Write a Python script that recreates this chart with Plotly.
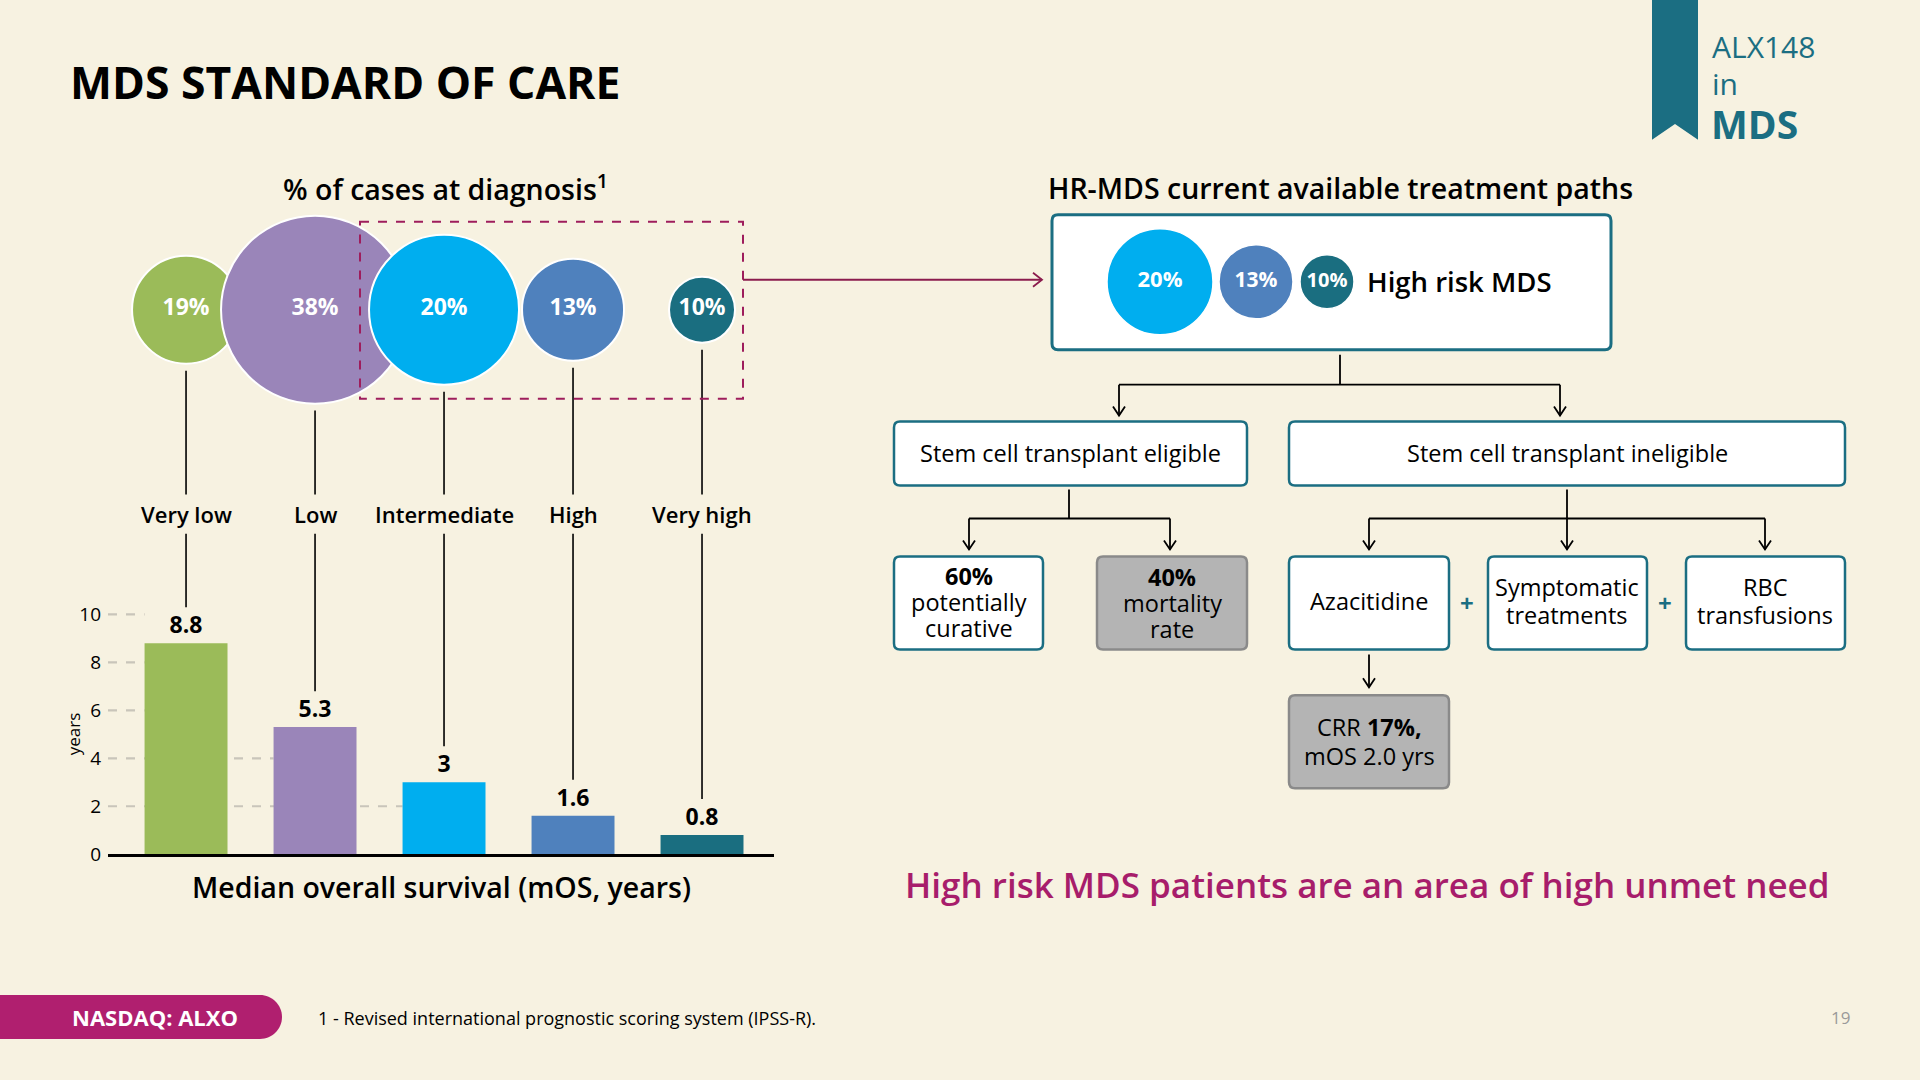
import plotly.graph_objects as go

# ---------------- data ----------------
categories = ["Very low", "Low", "Intermediate", "High", "Very high"]
pct_cases = [19, 38, 20, 13, 10]          # % of cases at diagnosis
mos_years = [8.8, 5.3, 3, 1.6, 0.8]       # median overall survival, years
y_ticks = [0, 2, 4, 6, 8, 10]
hr_idx = [2, 3, 4]                        # categories making up high-risk MDS

# ---------------- styles ----------------
W, H = 1920, 1080
HS = 1068            # vertical units of the page coordinate system
FONT = "Open Sans"
BG = "#f7f2e1"
TEAL = "#1b6e82"
MAGENTA = "#a71d6b"
cat_colors = ["#9bbb59", "#9a85b9", "#00aeef", "#4f81bd", "#1a6e80"]
bubble_diam = [108, 188, 150, 102, 66]
hr_bubble_diam = [106, 74, 54]
hr_bubble_x = [1160, 1256, 1327]
bubble_y = 310
BAR_W = 0.643
X_RANGE = [-0.605, 4.558]
PX_PER_UNIT = 24.0
Y0_PX, YTOP_PX = 855, 534
Y_RANGE = [0, (Y0_PX - YTOP_PX) / PX_PER_UNIT]

fig = go.Figure()

# ---------- bar chart ----------
fig.add_trace(go.Bar(
    x=list(range(len(categories))), y=mos_years,
    marker=dict(color=cat_colors, line=dict(width=0)),
    width=BAR_W,
    text=[str(v) for v in mos_years], textposition="outside",
    textfont=dict(family=FONT, size=23, color="black", weight="bold"),
    cliponaxis=False, hoverinfo="skip",
    xaxis="x", yaxis="y",
))

# ---------- % of cases bubbles ----------
fig.add_trace(go.Scatter(
    x=list(range(len(categories))), y=[bubble_y] * len(categories),
    mode="markers+text",
    marker=dict(size=bubble_diam, color=cat_colors, opacity=1,
                line=dict(color="white", width=2)),
    text=[f"{p}%" for p in pct_cases], textposition="middle center",
    textfont=dict(family=FONT, size=23, color="white", weight="bold"),
    cliponaxis=False, hoverinfo="skip",
    xaxis="x", yaxis="y2",
))

# ---------- high risk bubbles in box ----------
fig.add_trace(go.Scatter(
    x=hr_bubble_x, y=[282] * len(hr_idx),
    mode="markers+text",
    marker=dict(size=hr_bubble_diam, color=[cat_colors[i] for i in hr_idx],
                opacity=1, line=dict(color="white", width=1.5)),
    text=[f"{pct_cases[i]}%" for i in hr_idx], textposition="middle center",
    textfont=dict(family=FONT, size=[22, 21, 20], color="white", weight="bold"),
    cliponaxis=False, hoverinfo="skip",
    xaxis="x2", yaxis="y2",
))

shapes = []
annotations = []


def txt(x, y, s, size, color="black", weight="normal", xanchor="center",
        xref="x2", yref="y2", yanchor="middle", align="center", textangle=0):
    annotations.append(dict(
        x=x, y=y, xref=xref, yref=yref, text=s, showarrow=False,
        xanchor=xanchor, yanchor=yanchor, align=align, textangle=textangle,
        font=dict(family=FONT, size=size, color=color, weight=weight)))


def lines(x, yc, rows, size, spacing):
    n = len(rows)
    for k, r in enumerate(rows):
        txt(x, yc + (k - (n - 1) / 2) * spacing, r, size)


def line(x0, y0, x1, y1, color="black", width=1.6, dash="solid",
         xref="x2", yref="y2", layer="above"):
    shapes.append(dict(type="line", x0=x0, y0=y0, x1=x1, y1=y1, xref=xref,
                       yref=yref, layer=layer,
                       line=dict(color=color, width=width, dash=dash)))


def path(p, fill=None, color=None, width=0, layer="above", dash="solid"):
    shapes.append(dict(type="path", path=p, xref="x2", yref="y2", layer=layer,
                       fillcolor=fill if fill else "rgba(0,0,0,0)",
                       line=dict(color=color if color else "rgba(0,0,0,0)",
                                 width=width, dash=dash)))


def rrect(x0, y0, x1, y1, r):
    return (f"M{x0+r},{y0} L{x1-r},{y0} Q{x1},{y0} {x1},{y0+r} "
            f"L{x1},{y1-r} Q{x1},{y1} {x1-r},{y1} L{x0+r},{y1} "
            f"Q{x0},{y1} {x0},{y1-r} L{x0},{y0+r} Q{x0},{y0} {x0+r},{y0} Z")


def box(x0, y0, x1, y1, gray=False, width=2.5):
    if gray:
        path(rrect(x0, y0, x1, y1, 6), fill="#b4b4b4", color="#8a8a8a", width=2.5,
             layer="below")
    else:
        path(rrect(x0, y0, x1, y1, 6), fill="white", color=TEAL, width=width,
             layer="below")


def down_arrow(x, y0, y1):
    line(x, y0, x, y1, width=1.8)
    path(f"M{x-6},{y1-9} L{x},{y1} L{x+6},{y1-9}", color="black", width=1.8)


# ---------- gridline dashes (behind bars) ----------
for g in y_ticks[1:]:
    k = 0
    while k + 1 < len(mos_years) and mos_years[k] >= g and mos_years[k + 1] >= g:
        k += 1
    line(X_RANGE[0], g, k - BAR_W / 2, g, color="#c9c5ba", width=2.2,
         dash="dash", xref="x", yref="y", layer="below")

# ---------- connector lines: bubbles -> labels -> bars ----------
for i, (c, d, v) in enumerate(zip(categories, bubble_diam, mos_years)):
    line(i, bubble_y + d / 2 + 7, i, 495, width=1.6, xref="x", yref="y2")
    line(i, v + 1.5, i, Y_RANGE[1], width=1.6, xref="x", yref="y")
    txt(i, 514, c, 22, weight=600, xref="x", yref="y2")

# ---------- dashed selection box and arrow ----------
path("M360,222 L743,222 L743,399 L360,399 Z", color="#9e1d5c", width=2,
     dash="dash")
line(743, 280, 1042, 280, color="#8b1c4d", width=1.8)
path("M1033,273 L1042,280 L1033,287", color="#8b1c4d", width=1.8)

# ---------- flowchart ----------
box(1052, 215, 1611, 350, width=3)
txt(1365, 282, "High risk MDS", 27.5, weight=600, xanchor="left")

line(1340, 355, 1340, 385, width=1.8)
line(1119, 385, 1560, 385, width=1.8)
down_arrow(1119, 385, 416)
down_arrow(1560, 385, 416)

BOX_FS = 23.5
box(894, 422, 1247, 486)
txt(1070, 453, "Stem cell transplant eligible", BOX_FS)
box(1289, 422, 1845, 486)
txt(1567, 453, "Stem cell transplant ineligible", BOX_FS)

line(1069, 490, 1069, 519, width=1.8)
line(969, 519, 1170, 519, width=1.8)
down_arrow(969, 519, 550)
down_arrow(1170, 519, 550)

line(1567, 490, 1567, 519, width=1.8)
line(1369, 519, 1765, 519, width=1.8)
down_arrow(1369, 519, 550)
down_arrow(1567, 519, 550)
down_arrow(1765, 519, 550)

box(894, 557, 1043, 650)
lines(969, 603, ["<b>60%</b>", "potentially", "curative"], BOX_FS, 26)
box(1097, 557, 1247, 650, gray=True)
lines(1172, 604, ["<b>40%</b>", "mortality", "rate"], BOX_FS, 26)
box(1289, 557, 1449, 650)
txt(1369, 602, "Azacitidine", BOX_FS)
box(1488, 557, 1647, 650)
lines(1567, 602, ["Symptomatic", "treatments"], BOX_FS, 28)
box(1686, 557, 1845, 650)
lines(1765, 602, ["RBC", "transfusions"], BOX_FS, 28)
txt(1467, 603, "+", 24, color=TEAL, weight="bold")
txt(1665, 603, "+", 24, color=TEAL, weight="bold")

down_arrow(1369, 655, 688)
box(1289, 696, 1449, 789, gray=True)
lines(1369, 742, ["CRR <b>17%,</b>", "mOS 2.0 yrs"], BOX_FS, 29)

# ---------- titles & text ----------
txt(68, 82, "MDS STANDARD OF CARE", 44.5, weight="bold", xanchor="left")
txt(445, 188, "% of cases at diagnosis<sup>1</sup>", 28.5, weight=600)
txt(1340, 188, "HR-MDS current available treatment paths", 28.5, weight=600)
txt(441, 888, "Median overall survival (mOS, years)", 28.5, weight=600)
txt(1367, 885, "High risk MDS patients are an area of high unmet need", 35,
    color=MAGENTA, weight=600)
txt(73, 735, "years", 17, textangle=-90)

# ribbon
path("M1652,0 L1698,0 L1698,140 L1675,124 L1652,140 Z", fill=TEAL)
txt(1710, 47, "ALX148", 30, color=TEAL, xanchor="left")
txt(1710, 84, "in", 30, color=TEAL, xanchor="left")
txt(1709, 124, "MDS", 39, color=TEAL, weight="bold", xanchor="left")

# footer
path("M0,996 L260,996 C272,996 282,1006 282,1018 C282,1030 272,1040 260,1040 L0,1040 Z",
     fill="#b01f6f")
txt(70, 1018, "NASDAQ: ALXO", 22, color="white", weight="bold", xanchor="left")
txt(316, 1019, "1 - Revised international prognostic scoring system (IPSS-R).",
    18, xanchor="left")
txt(1840, 1018, "19", 17, color="#9a9a9a")

fig.update_layout(
    width=W, height=H, margin=dict(l=0, r=0, t=0, b=0, pad=0),
    paper_bgcolor=BG, plot_bgcolor="rgba(0,0,0,0)", showlegend=False,
    shapes=shapes, annotations=annotations,
    xaxis=dict(domain=[108 / W, 774 / W], range=X_RANGE, anchor="y",
               showticklabels=False, showgrid=False, zeroline=False,
               showline=True, linecolor="black", linewidth=2.5, ticks=""),
    yaxis=dict(domain=[1 - Y0_PX / HS, 1 - YTOP_PX / HS], range=Y_RANGE,
               anchor="x", tickvals=y_ticks, showgrid=False, zeroline=False,
               showline=False, ticks="", ticklabelstandoff=6,
               tickfont=dict(family=FONT, size=19, color="black")),
    xaxis2=dict(domain=[0, 1], range=[0, W], anchor="y2", visible=False),
    yaxis2=dict(domain=[0, 1], range=[HS, 0], anchor="x2", visible=False),
)

fig.write_html(
    "out.html", config={"displayModeBar": False},
    post_script=("document.documentElement.style.margin='0';"
                 "document.documentElement.style.overflow='hidden';"
                 "document.body.style.margin='0';"
                 "document.body.style.padding='0';"
                 "document.body.style.height='1080px';"
                 "document.body.style.overflow='hidden';"))
